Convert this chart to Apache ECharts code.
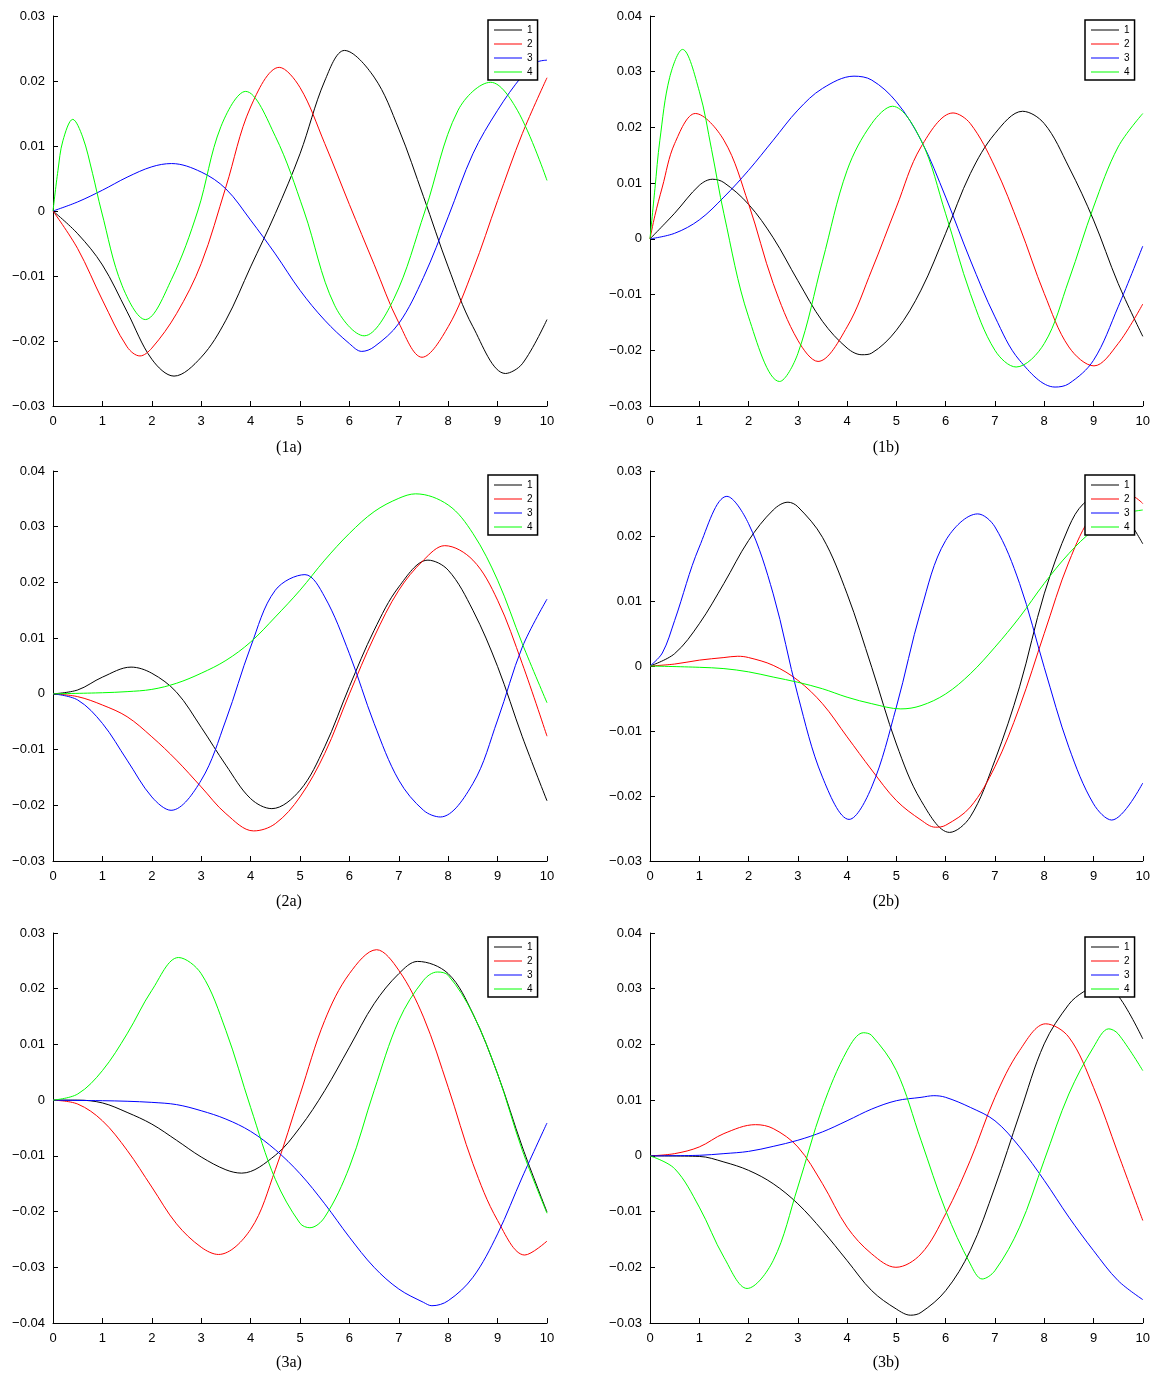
<!DOCTYPE html>
<html lang="en">
<head>
    <meta charset="UTF-8">
    <title>Modes 1a-3b</title>
    <script src="https://cdn.jsdelivr.net/npm/echarts@6/dist/echarts.min.js"></script>
</head>
<body style="margin:0;background:#fff;">
<div id="main" style="width:1153px;height:1373px;"></div>
<script>
    // panel names and y ranges
    var panels = ['(1a)', '(1b)', '(2a)', '(2b)', '(3a)', '(3b)'];
    var yMin = [-0.03, -0.03, -0.03, -0.03, -0.04, -0.03];
    var yMax = [0.03, 0.04, 0.04, 0.03, 0.03, 0.04];
    var names = ['1', '2', '3', '4'];
    var colors = ['#000000', '#ff0000', '#0000ff', '#00ff00'];

    // (1a)
    var p1a_1 = [[0,0],[0.5,-0.0035],[1,-0.0083],[1.5,-0.0155],[2,-0.0228],[2.45,-0.0254],[3,-0.0225],[3.5,-0.0168],[4,-0.0086],[4.5,-0.0004],[5,0.0088],[5.5,0.020],[5.9,0.0247],[6.5,0.0206],[7,0.0126],[7.5,0.0022],[8,-0.0086],[8.5,-0.0178],[9.16,-0.025],[9.5,-0.0235],[10,-0.0167]];
    var p1a_2 = [[0,0],[0.5,-0.0058],[1,-0.0137],[1.5,-0.0209],[1.76,-0.0223],[2,-0.0211],[2.5,-0.0158],[3,-0.0081],[3.5,0.0037],[4,0.016],[4.58,0.0221],[5,0.019],[5.5,0.0104],[6,0.001],[6.5,-0.0082],[7,-0.0172],[7.47,-0.0225],[8,-0.0178],[8.5,-0.0091],[9,0.0016],[9.5,0.0119],[10,0.0205]];
    var p1a_3 = [[0,0],[0.5,0.0014],[1,0.0032],[1.5,0.0052],[2,0.0068],[2.4,0.0073],[3,0.006],[3.5,0.0034],[4,-0.0014],[4.5,-0.0066],[5,-0.0122],[5.5,-0.0168],[6,-0.0204],[6.25,-0.0216],[6.5,-0.0209],[7,-0.0173],[7.5,-0.0102],[8,-0.0009],[8.5,0.0088],[9,0.0155],[9.5,0.0208],[9.8,0.0229],[10,0.0232]];
    var p1a_4 = [[0,0],[0.1,0.0062],[0.2,0.0108],[0.4,0.0141],[0.6,0.0114],[0.8,0.0058],[0.98,0],[1.4,-0.0115],[1.87,-0.0167],[2.4,-0.0105],[2.93,0],[3.4,0.013],[3.9,0.0184],[4.5,0.0115],[5.08,0],[5.7,-0.0145],[6.3,-0.0192],[6.9,-0.0135],[7.53,0],[8.2,0.0155],[8.86,0.0198],[9.4,0.0155],[10,0.0047]];

    // (1b)
    var p1b_1 = [[0,0],[0.5,0.0046],[1,0.0096],[1.27,0.0107],[1.5,0.0101],[2,0.0062],[2.5,0.0002],[3,-0.0075],[3.5,-0.0148],[4,-0.0196],[4.3,-0.0208],[4.5,-0.0205],[5,-0.0164],[5.5,-0.0092],[6,0.001],[6.5,0.0117],[7,0.0189],[7.56,0.0229],[8,0.0207],[8.5,0.0129],[9,0.0034],[9.5,-0.008],[10,-0.0175]];
    var p1b_2 = [[0,0],[0.1,0.0042],[0.25,0.0093],[0.5,0.0171],[0.92,0.0225],[1.5,0.0177],[2,0.0063],[2.5,-0.008],[3,-0.0182],[3.41,-0.022],[4,-0.0158],[4.5,-0.0056],[5,0.0057],[5.5,0.0165],[6.15,0.0226],[6.5,0.0207],[7,0.0129],[7.5,0.0022],[8,-0.0098],[8.5,-0.0194],[9.01,-0.0228],[9.5,-0.0188],[10,-0.0117]];
    var p1b_3 = [[0,0],[0.5,0.001],[1,0.0034],[1.5,0.0075],[2,0.0123],[2.5,0.0177],[3,0.0231],[3.5,0.027],[4.14,0.0292],[4.5,0.0285],[5,0.0246],[5.5,0.0177],[6,0.0075],[6.5,-0.0038],[7,-0.014],[7.5,-0.0218],[8.22,-0.0266],[8.5,-0.026],[9,-0.0218],[9.5,-0.0122],[10,-0.0013]];
    var p1b_4 = [[0,0],[0.1,0.009],[0.2,0.0177],[0.4,0.029],[0.66,0.034],[1,0.0265],[1.25,0.016],[1.5,0.0045],[2,-0.014],[2.63,-0.0256],[3,-0.0206],[3.5,-0.004],[4,0.0123],[4.5,0.0207],[4.92,0.0238],[5.5,0.0177],[6,0.0045],[6.5,-0.0098],[7,-0.02],[7.43,-0.023],[8,-0.0188],[8.5,-0.0074],[9,0.0057],[9.5,0.0165],[10,0.0225]];

    // (2a)
    var p2a_1 = [[0,0],[0.5,0.0007],[1,0.003],[1.58,0.0048],[2,0.0037],[2.5,0.0003],[3,-0.006],[3.5,-0.0128],[4,-0.0188],[4.43,-0.0206],[5,-0.0173],[5.5,-0.0095],[6,0.0013],[6.5,0.0114],[7,0.0192],[7.59,0.024],[8,0.0222],[8.5,0.015],[9,0.0049],[9.5,-0.0077],[10,-0.0192]];
    var p2a_2 = [[0,0],[0.5,-0.0005],[1,-0.002],[1.5,-0.0041],[2,-0.0077],[2.5,-0.0119],[3,-0.0167],[3.5,-0.0215],[4.06,-0.0246],[4.5,-0.0233],[5,-0.0185],[5.5,-0.0107],[6,0],[6.5,0.0102],[7,0.0186],[7.5,0.024],[7.93,0.0266],[8.5,0.024],[9,0.0168],[9.5,0.0054],[10,-0.0076]];
    var p2a_3 = [[0,0],[0.5,-0.0011],[1,-0.0053],[1.5,-0.0119],[2,-0.0185],[2.39,-0.0209],[3,-0.0155],[3.5,-0.0047],[4,0.0084],[4.5,0.0186],[5.1,0.0214],[5.5,0.0174],[6,0.0072],[6.5,-0.0053],[7,-0.0155],[7.5,-0.0209],[7.84,-0.0221],[8.5,-0.0161],[9,-0.0047],[9.5,0.0084],[10,0.017]];
    var p2a_4 = [[0,0],[1,0.0002],[1.5,0.0004],[2,0.0008],[2.5,0.0019],[3,0.0037],[3.5,0.006],[4,0.0093],[4.5,0.0138],[5,0.0186],[5.5,0.024],[6,0.0288],[6.5,0.0327],[7,0.0351],[7.34,0.0359],[8,0.0339],[8.5,0.0288],[9,0.0204],[9.5,0.009],[10,-0.0016]];

    // (2b)
    var p2b_1 = [[0,0],[0.5,0.0019],[1,0.0065],[1.5,0.0127],[2,0.0193],[2.5,0.024],[2.8,0.0252],[3,0.0245],[3.5,0.0198],[4,0.0111],[4.5,-0.0002],[5,-0.012],[5.5,-0.0207],[6.08,-0.0256],[6.5,-0.0232],[7,-0.0145],[7.5,-0.0032],[8,0.0111],[8.5,0.0214],[8.8,0.025],[9.2,0.0265],[9.6,0.0236],[10,0.0188]];
    var p2b_2 = [[0,0],[0.5,0.0003],[1,0.0009],[1.5,0.0013],[1.78,0.0015],[2,0.0013],[2.5,0.0001],[3,-0.0022],[3.5,-0.0058],[4,-0.0109],[4.5,-0.016],[5,-0.0207],[5.5,-0.0237],[5.79,-0.0248],[6,-0.0245],[6.5,-0.0217],[7,-0.0155],[7.5,-0.0063],[8,0.005],[8.5,0.016],[9,0.0235],[9.5,0.026],[9.75,0.0262],[10,0.025]];
    var p2b_3 = [[0,0],[0.25,0.002],[0.5,0.007],[1,0.0183],[1.56,0.0261],[2,0.0219],[2.5,0.0111],[3,-0.0045],[3.5,-0.0171],[4.04,-0.0236],[4.5,-0.0186],[5,-0.0063],[5.5,0.0086],[6,0.0193],[6.65,0.0234],[7,0.0214],[7.5,0.0127],[8,-0.0002],[8.5,-0.0125],[9,-0.0212],[9.37,-0.0237],[10,-0.018]];
    var p2b_4 = [[0,0],[1,-0.0002],[1.5,-0.0004],[2,-0.0009],[2.5,-0.0017],[3,-0.0025],[3.5,-0.0035],[4,-0.0048],[4.5,-0.0058],[5.09,-0.0066],[5.5,-0.0061],[6,-0.0043],[6.5,-0.0012],[7,0.0029],[7.5,0.0075],[8,0.0127],[8.5,0.0173],[9,0.0209],[9.5,0.0232],[10,0.024]];

    // (3a)
    var p3a_1 = [[0,0],[0.5,0],[1,-0.0005],[1.5,-0.0022],[2,-0.0043],[2.5,-0.0072],[3,-0.0102],[3.5,-0.0125],[3.82,-0.0131],[4.5,-0.0099],[5,-0.0049],[5.5,0.0017],[6,0.0095],[6.5,0.0173],[7,0.0227],[7.38,0.0249],[8,0.0227],[8.5,0.0155],[9,0.0047],[9.5,-0.0084],[10,-0.0201]];
    var p3a_2 = [[0,0],[0.5,-0.0007],[1,-0.0037],[1.5,-0.009],[2,-0.0156],[2.5,-0.0222],[3,-0.0264],[3.35,-0.0277],[4,-0.0232],[4.5,-0.0125],[5,0.001],[5.5,0.0143],[6,0.0227],[6.55,0.027],[7,0.0233],[7.5,0.0149],[8,0.0023],[8.5,-0.0114],[9,-0.0216],[9.55,-0.0278],[10,-0.0253]];
    var p3a_3 = [[0,0],[1,-0.0001],[1.5,-0.0002],[2,-0.0004],[2.5,-0.0008],[3,-0.0019],[3.5,-0.0034],[4,-0.0056],[4.5,-0.0089],[5,-0.0132],[5.5,-0.0186],[6,-0.0246],[6.5,-0.03],[7,-0.0339],[7.5,-0.0363],[7.67,-0.0369],[8,-0.036],[8.5,-0.0318],[9,-0.024],[9.5,-0.0138],[10,-0.0041]];
    var p3a_4 = [[0,0],[0.5,0.0011],[1,0.0053],[1.5,0.0119],[2,0.0197],[2.54,0.0256],[3,0.0227],[3.5,0.0125],[4,-0.0013],[4.5,-0.0142],[5,-0.0221],[5.2,-0.0229],[5.5,-0.021],[6,-0.012],[6.5,0.0017],[7,0.0143],[7.5,0.0215],[7.78,0.023],[8,0.0224],[8.5,0.0155],[9,0.0047],[9.5,-0.009],[10,-0.0203]];

    // (3b)
    var p3b_1 = [[0,0],[1,-0.0001],[1.5,-0.0011],[2,-0.0026],[2.5,-0.005],[3,-0.0086],[3.5,-0.0134],[4,-0.0188],[4.5,-0.0242],[5,-0.0275],[5.29,-0.0286],[5.5,-0.0281],[6,-0.0242],[6.5,-0.017],[7,-0.0056],[7.5,0.0075],[8,0.0201],[8.5,0.0272],[8.79,0.0294],[9.15,0.031],[9.52,0.0285],[10,0.021]];
    var p3b_2 = [[0,0],[0.5,0.0004],[1,0.0016],[1.5,0.004],[2.14,0.0056],[2.5,0.0049],[3,0.0016],[3.5,-0.005],[4,-0.0128],[4.5,-0.0176],[4.99,-0.02],[5.5,-0.0176],[6,-0.0104],[6.5,-0.0008],[7,0.0105],[7.5,0.0189],[8.03,0.0237],[8.5,0.0213],[9,0.0123],[9.5,0.0004],[10,-0.0116]];
    var p3b_3 = [[0,0],[1,0.0001],[1.5,0.0004],[2,0.0008],[2.5,0.0017],[3,0.0028],[3.5,0.0043],[4,0.0063],[4.5,0.0084],[5,0.0099],[5.5,0.0105],[5.76,0.0108],[6,0.0105],[6.5,0.0087],[7,0.0063],[7.5,0.0016],[8,-0.0044],[8.5,-0.011],[9,-0.017],[9.5,-0.0224],[10,-0.0258]];
    var p3b_4 = [[0,0],[0.5,-0.0023],[1,-0.0092],[1.5,-0.0182],[1.97,-0.0238],[2.5,-0.0188],[3,-0.0056],[3.5,0.0087],[4,0.0189],[4.33,0.0221],[4.5,0.0216],[5,0.0153],[5.5,0.0028],[6,-0.0098],[6.5,-0.0194],[6.74,-0.0221],[7,-0.0206],[7.5,-0.0128],[8,-0.0008],[8.5,0.0111],[9,0.0195],[9.31,0.0228],[9.5,0.0219],[10,0.0153]];

    var panelData = [
        [p1a_1, p1a_2, p1a_3, p1a_4],
        [p1b_1, p1b_2, p1b_3, p1b_4],
        [p2a_1, p2a_2, p2a_3, p2a_4],
        [p2b_1, p2b_2, p2b_3, p2b_4],
        [p3a_1, p3a_2, p3a_3, p3a_4],
        [p3b_1, p3b_2, p3b_3, p3b_4]
    ];

    // layout of the 3x2 grid (pixels)
    var gridLeft = [53, 650];
    var gridTop = [16, 471, 933];
    var gridW = 494, gridH = 390;
    var captionTop = [435, 889, 1350];

    var sansFont = '"Liberation Sans", Arial, sans-serif';
    var serifFont = '"Liberation Serif", "DejaVu Serif", serif';

    function fmtY(v) {
        if (Math.abs(v) < 1e-9) return '0';
        var s = String(parseFloat(v.toFixed(2)));
        return s.replace('-', '\u2212');
    }

    var grids = [], xAxes = [], yAxes = [], series = [], legends = [], titles = [];
    for (var i = 0; i < 6; i++) {
        var col = i % 2, row = Math.floor(i / 2);
        // note: "top" is window.top in global scope, so use gx / gy
        var gx = gridLeft[col], gy = gridTop[row];
        grids.push({left: gx, top: gy, width: gridW, height: gridH});
        xAxes.push({
            type: 'value', gridIndex: i, min: 0, max: 10, interval: 1,
            axisLine: {onZero: false, lineStyle: {color: '#000', width: 1}},
            axisTick: {inside: true, length: 5, lineStyle: {color: '#000'}},
            splitLine: {show: false},
            axisLabel: {color: '#000', fontSize: 13, fontFamily: sansFont, margin: 9}
        });
        yAxes.push({
            type: 'value', gridIndex: i, min: yMin[i], max: yMax[i], interval: 0.01,
            axisLine: {show: true, onZero: false, lineStyle: {color: '#000', width: 1}},
            axisTick: {show: true, inside: true, length: 5, lineStyle: {color: '#000'}},
            splitLine: {show: false},
            axisLabel: {color: '#000', fontSize: 13, fontFamily: sansFont, margin: 8, formatter: fmtY}
        });
        for (var k = 0; k < 4; k++) {
            series.push({
                name: names[k], type: 'line', xAxisIndex: i, yAxisIndex: i,
                data: panelData[i][k], showSymbol: false,
                smooth: 0.35, lineStyle: {color: colors[k], width: 1},
                itemStyle: {color: colors[k]}
            });
        }
        legends.push({
            orient: 'vertical', left: gx + gridW - 59, top: gy + 4,
            data: names.slice(), icon: 'rect', itemWidth: 28, itemHeight: 1, itemGap: 4,
            padding: [5, 5, 3, 6],
            backgroundColor: '#fff', borderColor: '#000', borderWidth: 1.5,
            textStyle: {color: '#000', fontSize: 10, lineHeight: 10, fontFamily: sansFont}
        });
        titles.push({
            text: panels[i], left: gx + gridW / 2 - 16, top: captionTop[row], textAlign: 'center',
            textStyle: {color: '#000', fontSize: 16, fontWeight: 'normal', fontFamily: serifFont}
        });
    }

    var myChart = echarts.init(document.getElementById('main'));
    myChart.setOption({
        animation: false,
        backgroundColor: '#fff',
        title: titles,
        legend: legends,
        grid: grids,
        xAxis: xAxes,
        yAxis: yAxes,
        series: series
    });
</script>
</body>
</html>
